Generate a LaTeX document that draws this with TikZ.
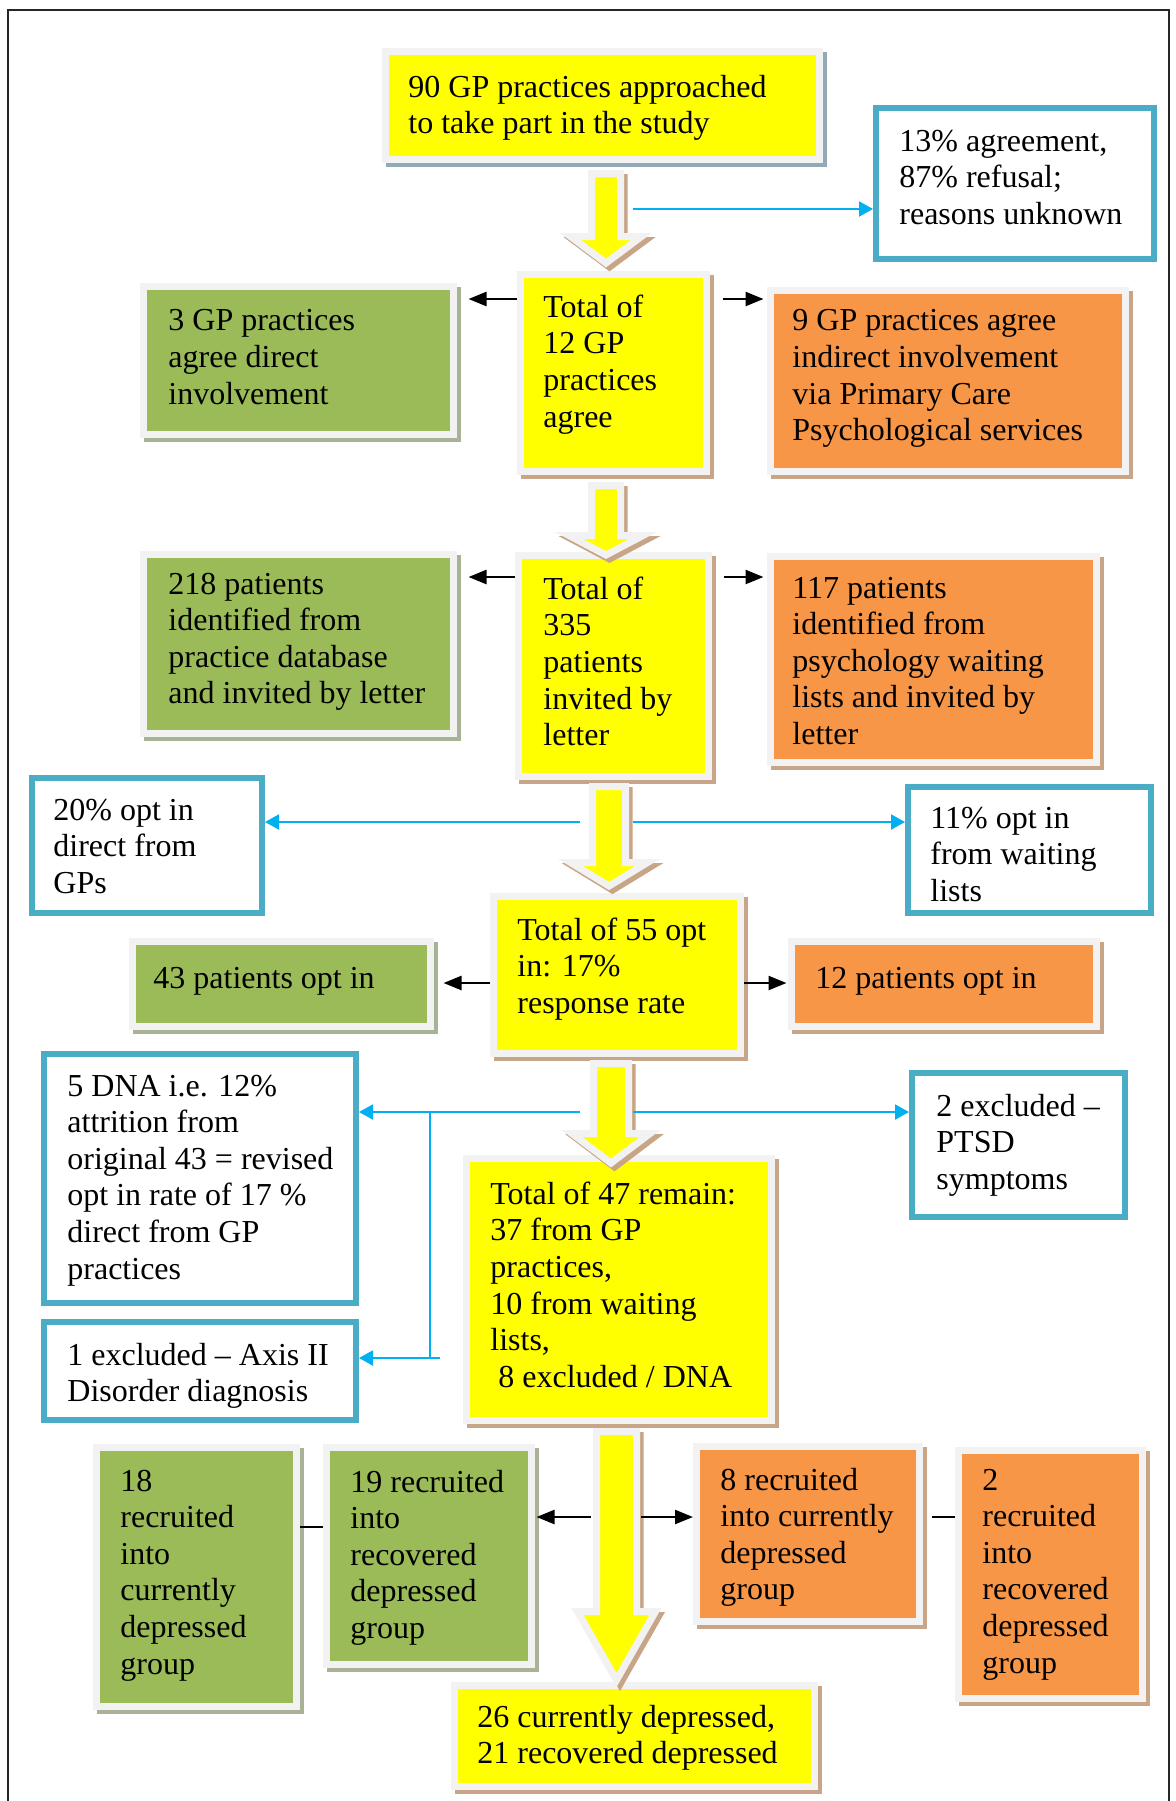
\documentclass[tikz,border=0pt]{standalone}
\usepackage{fontspec}
\setmainfont{Liberation Serif}
\usetikzlibrary{arrows.meta}
\definecolor{yel}{RGB}{255,255,0}
\definecolor{grn}{RGB}{155,187,89}
\definecolor{org}{RGB}{247,150,70}
\definecolor{brd}{RGB}{242,242,242}
\definecolor{bbox}{RGB}{75,172,198}
\definecolor{bline}{RGB}{0,176,240}
\definecolor{shtan}{RGB}{201,165,135}
\definecolor{shgrn}{RGB}{168,178,150}
\definecolor{shblu}{RGB}{146,170,182}
\tikzset{
  sbox/.style 2 args={draw=brd, fill=#1, line width=3.5pt, inner sep=0pt,
    preaction={draw=#2, fill=#2, line width=3.5pt, transform canvas={shift={(1.75pt,-2pt)}}}},
  bbx/.style={draw=bbox, fill=white, line width=3pt, inner sep=0pt},
  txt/.style={anchor=north west, inner sep=0pt, align=left,
    font=\fontsize{16pt}{18.3pt}\selectfont, execute at begin node=\strut},
  blockarrow/.style={draw=brd, fill=yel, line width=3.5pt, line join=miter,
    preaction={draw=shtan, fill=shtan, line width=3.5pt, transform canvas={shift={(1.75pt,-2pt)}}}},
  blk/.style={draw=black, line width=1.2pt, -{Triangle[length=9pt,width=7pt]}},
  bl/.style={draw=bline, line width=1pt, -{Triangle[length=7pt,width=7.5pt]}},
  blp/.style={draw=bline, line width=1pt},
  plain/.style={draw=black, line width=1.2pt},
}
\newcommand\mkbox[6]{%
  \pgfmathsetmacro\bxw{(#5-#3-7)*0.5}%
  \pgfmathsetmacro\bxh{(#6-#4-7)*0.5}%
  \node[#2, minimum width=\bxw pt, minimum height=\bxh pt] (#1) at ({(#3+#5)/2},{(#4+#6)/2}) {};}
\newcommand\mkbbox[5]{%
  \pgfmathsetmacro\bxw{(#4-#2-6)*0.5}%
  \pgfmathsetmacro\bxh{(#5-#3-6)*0.5}%
  \node[bbx, minimum width=\bxw pt, minimum height=\bxh pt] (#1) at ({(#2+#4)/2},{(#3+#5)/2}) {};}
\newcommand\mktxt[4]{\node[txt] (#1) at (#2,{#3-20.6}) {#4};}
\newcommand\mkarrow[6]{%
  \path[blockarrow] ({#1-#5+3.5},{#2+3.5}) -- ({#1+#5-3.5},{#2+3.5}) -- ({#1+#5-3.5},{#3+3.5})
   -- ({#1+#6-4.5},{#3+3.5}) -- (#1,{#4-5}) -- ({#1-#6+4.5},{#3+3.5}) -- ({#1-#5+3.5},{#3+3.5}) -- cycle;}
\begin{document}
\begin{tikzpicture}[x=0.5pt,y=-0.5pt]
\useasboundingbox (0,0) rectangle (1176,1801);
\fill[white] (0,0) rectangle (1176,1801);
\draw[line width=1.25pt, draw=black!85] (8,1801) -- (8,10) -- (1169,10) -- (1169,1801);

% boxes
\mkbox{top}{sbox={yel}{shblu}}{382}{48}{823}{163}
\mkbox{g1}{sbox={grn}{shgrn}}{140}{283}{457}{438}
\mkbox{y2}{sbox={yel}{shtan}}{517}{271}{710}{475}
\mkbox{o1}{sbox={org}{shtan}}{767}{287}{1129}{475}
\mkbox{g2}{sbox={grn}{shgrn}}{140}{551}{457}{737}
\mkbox{y3}{sbox={yel}{shtan}}{515}{552}{712}{780}
\mkbox{o2}{sbox={org}{shtan}}{767}{553}{1100}{766}
\mkbox{y4}{sbox={yel}{shtan}}{490}{893}{744}{1057}
\mkbox{g3}{sbox={grn}{shgrn}}{129}{938}{434}{1030}
\mkbox{o3}{sbox={org}{shtan}}{788}{938}{1100}{1030}
\mkbox{y5}{sbox={yel}{shtan}}{463}{1155}{775}{1424}
\mkbox{g4}{sbox={grn}{shgrn}}{93}{1444}{300}{1710}
\mkbox{g5}{sbox={grn}{shgrn}}{323}{1444}{535}{1668}
\mkbox{o4}{sbox={org}{shtan}}{693}{1443}{923}{1625}
\mkbox{o5}{sbox={org}{shtan}}{955}{1447}{1146}{1702}
\mkbox{bot}{sbox={yel}{shtan}}{451}{1682}{818}{1790}

\mkbbox{b1}{873}{105}{1157}{262}
\mkbbox{b2}{29}{775}{265}{916}
\mkbbox{b3}{905}{784}{1154}{916}
\mkbbox{b4}{41}{1051}{359}{1306}
\mkbbox{b5}{41}{1319}{359}{1423}
\mkbbox{b6}{909}{1070}{1128}{1220}

% block arrows
\mkarrow{606}{170}{233}{268}{18}{40}
\mkarrow{606}{482}{532}{560}{18}{41.5}
\mkarrow{609}{783}{859}{891}{20}{43}
\mkarrow{611}{1060}{1130}{1168}{21}{43.5}
\mkarrow{616.5}{1428}{1608}{1685}{23.5}{43.5}

% texts
\mktxt{ttop}{408}{95}{90 GP practices approached\\to take part in the study}
\mktxt{tb1}{899}{150}{13\% agreement,\\87\% refusal;\\reasons unknown}
\mktxt{tg1}{168}{330}{3 GP practices\\agree direct\\involvement}
\mktxt{ty2}{543}{315}{Total of\\12 GP\\practices\\agree}
\mktxt{to1}{792}{330}{9 GP practices agree\\indirect involvement\\via Primary Care\\Psychological services}
\mktxt{tg2}{168}{593}{218 patients\\identified from\\practice database\\and invited by letter}
\mktxt{ty3}{543}{597}{Total of\\335\\patients\\invited by\\letter}
\mktxt{to2}{792}{597}{117 patients\\identified from\\psychology waiting\\lists and invited by\\letter}
\mktxt{tb2}{53}{819}{20\% opt in\\direct from\\GPs}
\mktxt{tb3}{930}{827}{11\% opt in\\from waiting\\lists}
\mktxt{ty4}{517}{938}{Total of 55 opt\\in: 17\%\\response rate}
\mktxt{tg3}{153}{983}{43 patients opt in}
\mktxt{to3}{815}{983}{12 patients opt in}
\mktxt{tb4}{67}{1095}{5 DNA i.e. 12\%\\attrition from\\original 43 = revised\\opt in rate of 17 \%\\direct from GP\\practices}
\mktxt{tb5}{67}{1363}{1 excluded -- Axis II\\Disorder diagnosis}
\mktxt{tb6}{936}{1114}{2 excluded --\\PTSD\\symptoms}
\mktxt{ty5}{490}{1202}{Total of 47 remain:\\37 from GP\\practices,\\10 from waiting\\lists,\\\hspace*{4pt}8 excluded / DNA}
\mktxt{tg4}{120}{1490}{18\\recruited\\into\\currently\\depressed\\group}
\mktxt{tg5}{350}{1490}{19 recruited\\into\\recovered\\depressed\\group}
\mktxt{to4}{720}{1488}{8 recruited\\into currently\\depressed\\group}
\mktxt{to5}{982}{1489}{2\\recruited\\into\\recovered\\depressed\\group}
\mktxt{tbot}{477}{1725}{26 currently depressed,\\21 recovered depressed}

% blue connectors
\coordinate (c1) at (633,209);
\draw[bl] (c1) -- (c1 -| b1.west);
\coordinate (c2l) at (580,822);
\coordinate (c2r) at (633,822);
\draw[bl] (c2l) -- (c2l -| b2.east);
\draw[bl] (c2r) -- (c2r -| b3.west);
\coordinate (c4l) at (580,1112);
\coordinate (c4r) at (633,1112);
\draw[bl] (c4l) -- (c4l -| b4.east);
\draw[bl] (c4r) -- (c4r -| b6.west);
\coordinate (j1) at (430,1112);
\coordinate (j2) at (430,1358);
\coordinate (j3) at (440,1358);
\draw[blp] (j1) -- (j2);
\draw[bl] (j3) -- (j3 -| b5.east);

% black connectors
\coordinate (r2) at (0,299);
\draw[blk] (y2.west |- r2) -- ([xshift=5.75pt]g1.east |- r2);
\draw[blk] ([xshift=6.25pt]y2.east |- r2) -- ([xshift=-1.75pt]o1.west |- r2);
\coordinate (r3) at (0,577);
\draw[blk] (y3.west |- r3) -- ([xshift=5.75pt]g2.east |- r3);
\draw[blk] ([xshift=5.75pt]y3.east |- r3) -- ([xshift=-1.75pt]o2.west |- r3);
\coordinate (r4) at (0,983);
\draw[blk] (y4.west |- r4) -- ([xshift=4.75pt]g3.east |- r4);
\draw[blk] (y4.east |- r4) -- ([xshift=-0.75pt]o3.west |- r4);
\coordinate (r5l) at (591,1517);
\coordinate (r5r) at (641,1517);
\draw[blk] (r5l) -- ([xshift=0.75pt]g5.east |- r5l);
\draw[blk] (r5r) -- (r5r -| o4.west);
\coordinate (r6) at (0,1527);
\draw[plain] (g4.east |- r6) -- (g5.west |- r6);
\draw[plain] ([xshift=4.25pt]o4.east |- r5r) -- (o5.west |- r5r);
\end{tikzpicture}
\end{document}
